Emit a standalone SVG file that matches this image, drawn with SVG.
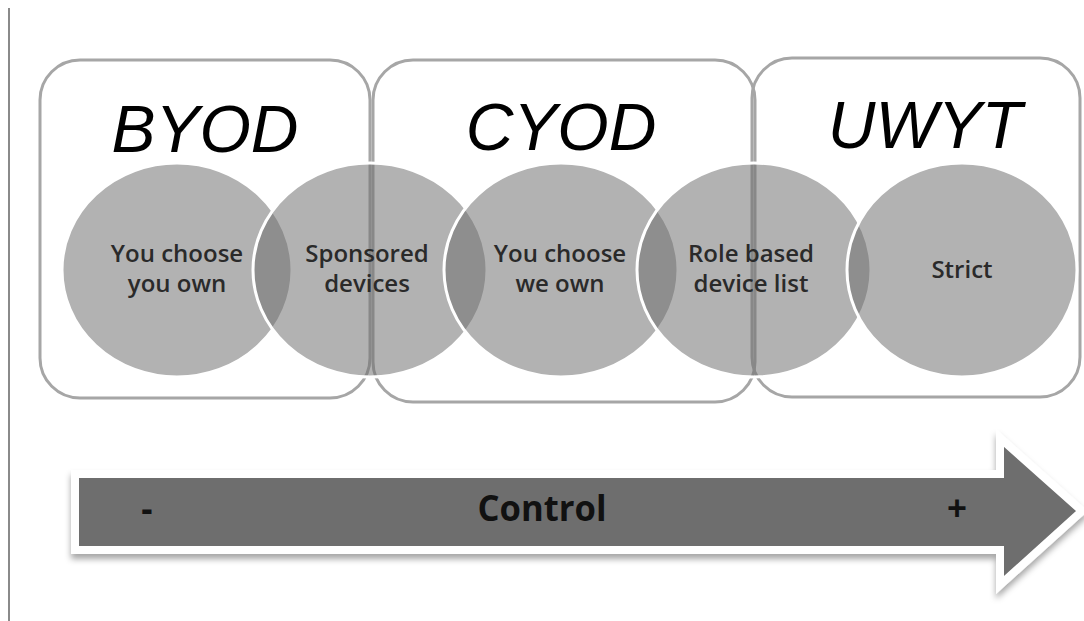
<svg xmlns="http://www.w3.org/2000/svg" width="1084" height="621" viewBox="0 0 1084 621">
<defs>
<style>
.box{fill:none;stroke:#a6a6a6;stroke-width:3}
.circ{fill:#6e6e6e;fill-opacity:0.53;stroke:#ffffff;stroke-width:3}
.title{font-family:"Liberation Sans",Arial,sans-serif;font-style:italic;font-size:66px;fill:#000;text-anchor:middle}
.lbl{font-family:"Open Sans","DejaVu Sans",sans-serif;font-size:24px;font-weight:600;fill:#2a2a2a;text-anchor:middle}
.arr{font-family:"Open Sans","DejaVu Sans",sans-serif;font-weight:bold;font-size:35px;fill:#111;text-anchor:middle}
</style>
<filter id="sh" x="-5%" y="-20%" width="110%" height="150%">
<feDropShadow dx="0" dy="5" stdDeviation="3" flood-color="#000" flood-opacity="0.35"/>
</filter>
</defs>
<rect width="1084" height="621" fill="#ffffff"/>
<line x1="9" y1="8" x2="9" y2="621" stroke="#8a8a8a" stroke-width="2"/>
<g id="boxes">
<g id="box-byod"><rect class="box" x="40" y="60" width="330" height="338" rx="40"/></g>
<g id="box-cyod"><rect class="box" x="373" y="60" width="382" height="342" rx="40"/></g>
<g id="box-uwyt"><rect class="box" x="752" y="58" width="328" height="339" rx="40"/></g>
</g>
<g id="circles">
<g id="c1"><ellipse class="circ" cx="177" cy="270" rx="115" ry="107"/></g>
<g id="c2"><ellipse class="circ" cx="370" cy="270" rx="117" ry="107"/></g>
<g id="c3"><ellipse class="circ" cx="561" cy="270" rx="117" ry="107"/></g>
<g id="c4"><ellipse class="circ" cx="754" cy="270" rx="117" ry="107"/></g>
<g id="c5"><ellipse class="circ" cx="962" cy="270" rx="115" ry="107"/></g>
</g>
<g id="titles">
<text class="title" x="205" y="152">BYOD</text>
<text class="title" x="561" y="150">CYOD</text>
<text class="title" x="925" y="148">UWYT</text>
</g>
<g id="labels">
<text class="lbl" x="177" y="262">You choose</text>
<text class="lbl" x="177" y="292">you own</text>
<text class="lbl" x="367" y="262">Sponsored</text>
<text class="lbl" x="367" y="292">devices</text>
<text class="lbl" x="560" y="262">You choose</text>
<text class="lbl" x="560" y="292">we own</text>
<text class="lbl" x="751" y="262">Role based</text>
<text class="lbl" x="751" y="292">device list</text>
<text class="lbl" x="962" y="278">Strict</text>
</g>
<g id="connectors">
<g id="control-arrow">
<path d="M75,474 L1000,474 L1000,438 L1082,511 L1000,585 L1000,550 L75,550 Z" fill="#6e6e6e" stroke="#ffffff" stroke-width="8" stroke-linejoin="miter" filter="url(#sh)"/>
<text class="arr" x="147" y="521">-</text>
<text class="arr" x="542" y="521" textLength="129" lengthAdjust="spacingAndGlyphs">Control</text>
<text class="arr" x="957" y="521">+</text>
</g>
</g>
</svg>
